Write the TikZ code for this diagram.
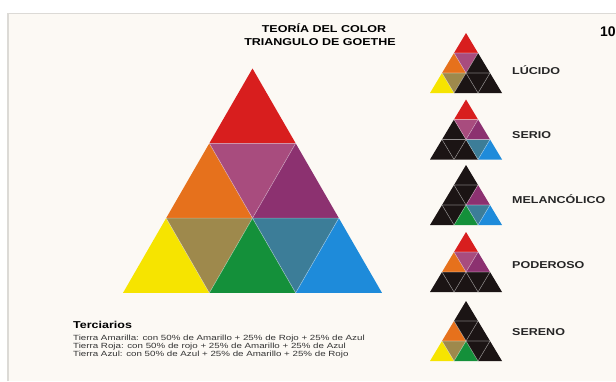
\documentclass[tikz,border=0pt]{standalone}
\usepackage{fontspec}
\setmainfont{Liberation Sans}
\newfontfamily\widesans[FakeStretch=1.25]{Liberation Sans}
\newfontfamily\bodysans[FakeStretch=1.3]{Liberation Sans}
\definecolor{gred}{HTML}{D81E1E}
\definecolor{gorange}{HTML}{E6711C}
\definecolor{gpink}{HTML}{A84C7E}
\definecolor{gpurple}{HTML}{8C3170}
\definecolor{gyellow}{HTML}{F6E400}
\definecolor{golive}{HTML}{9E894C}
\definecolor{ggreen}{HTML}{14903A}
\definecolor{gteal}{HTML}{3C7D98}
\definecolor{gblue}{HTML}{1E8BDA}
\definecolor{gblack}{HTML}{1B1414}
\definecolor{paper}{HTML}{FCF9F4}
\definecolor{frame}{HTML}{DCDAD6}
% T, L, M, R, A, B, C, D, E
\newcommand\gtri[9]{%
  \fill[#1] (0,0) -- (-0.5,1) -- (0.5,1) -- cycle;
  \fill[#2] (-0.5,1) -- (-1,2) -- (0,2) -- cycle;
  \fill[#3] (-0.5,1) -- (0.5,1) -- (0,2) -- cycle;
  \fill[#4] (0.5,1) -- (0,2) -- (1,2) -- cycle;
  \fill[#5] (-1,2) -- (-1.5,3) -- (-0.5,3) -- cycle;
  \fill[#6] (-1,2) -- (0,2) -- (-0.5,3) -- cycle;
  \fill[#7] (0,2) -- (-0.5,3) -- (0.5,3) -- cycle;
  \fill[#8] (0,2) -- (1,2) -- (0.5,3) -- cycle;
  \fill[#9] (1,2) -- (0.5,3) -- (1.5,3) -- cycle;
  \draw[sepline] (-0.5,1) -- (0.5,1) (-1,2) -- (1,2)
    (-0.5,1) -- (0.5,3) (-1,2) -- (-0.5,3)
    (0.5,1) -- (-0.5,3) (1,2) -- (0.5,3);
}
\tikzset{
  sepline/.style={draw=white, draw opacity=0.4, line width=0.6pt},
  moodlabel/.style={anchor=west, inner sep=0pt, font=\widesans\bfseries\fontsize{10}{12}\selectfont, text=black!85},
  titletext/.style={inner sep=0pt, font=\widesans\bfseries\fontsize{10}{12}\selectfont},
}
\begin{document}
\begin{tikzpicture}[x=1pt,y=-1pt]
\useasboundingbox (0,0) rectangle (616,381);
\fill[white] (0,0) rectangle (616,381);
\fill[paper] (8,13.5) rectangle (616,381);
\draw[frame, line width=1.2pt] (8,381) -- (8,13.5) -- (616,13.5);

% main triangle
\begin{scope}[xshift=252.5pt, yshift=-68.5pt, x=86.33pt, y=-74.8pt]
  \gtri{gred}{gorange}{gpink}{gpurple}{gyellow}{golive}{ggreen}{gteal}{gblue}
\end{scope}

% small triangles
\begin{scope}[xshift=466pt, yshift=-33pt, x=24pt, y=-20pt]
  \gtri{gred}{gorange}{gpink}{gblack}{gyellow}{golive}{gblack}{gblack}{gblack}
\end{scope}
\begin{scope}[xshift=466pt, yshift=-99.5pt, x=24pt, y=-20pt]
  \gtri{gred}{gblack}{gpink}{gpurple}{gblack}{gblack}{gblack}{gteal}{gblue}
\end{scope}
\begin{scope}[xshift=466pt, yshift=-165pt, x=24pt, y=-20pt]
  \gtri{gblack}{gblack}{gblack}{gpurple}{gblack}{gblack}{ggreen}{gteal}{gblue}
\end{scope}
\begin{scope}[xshift=466pt, yshift=-232pt, x=24pt, y=-20pt]
  \gtri{gred}{gorange}{gpink}{gpurple}{gblack}{gblack}{gblack}{gblack}{gblack}
\end{scope}
\begin{scope}[xshift=466pt, yshift=-301pt, x=24pt, y=-20pt]
  \gtri{gblack}{gorange}{gblack}{gblack}{gyellow}{golive}{ggreen}{gblack}{gblack}
\end{scope}

% titles
\node[titletext] (t1) at (324,28) {TEORÍA DEL COLOR};
\node[titletext] (t2) at (320,42) {TRIANGULO DE GOETHE};
\node[anchor=west, inner sep=0pt, font=\bfseries\fontsize{14}{16}\selectfont] (num) at (600,32) {10};

% labels
\node[moodlabel] (l1) at (512,70) {LÚCIDO};
\node[moodlabel] (l2) at (512,135) {SERIO};
\node[moodlabel] (l3) at (512,199) {MELANCÓLICO};
\node[moodlabel] (l4) at (512,265) {PODEROSO};
\node[moodlabel] (l5) at (512,332) {SERENO};

% tertiary text
\node[anchor=west, inner sep=0pt, font=\widesans\bfseries\fontsize{10}{11}\selectfont] (ter) at (73,325) {Terciarios};
\node[anchor=north west, inner sep=0pt, align=left, text=black!80,
      font=\bodysans\fontsize{7.5}{8.2}\selectfont] (body) at (73,334.5) {Tierra Amarilla: con 50\% de Amarillo + 25\% de Rojo + 25\% de Azul\\
Tierra Roja: con 50\% de rojo + 25\% de Amarillo + 25\% de Azul\\
Tierra Azul: con 50\% de Azul + 25\% de Amarillo + 25\% de Rojo};
\end{tikzpicture}
\end{document}
